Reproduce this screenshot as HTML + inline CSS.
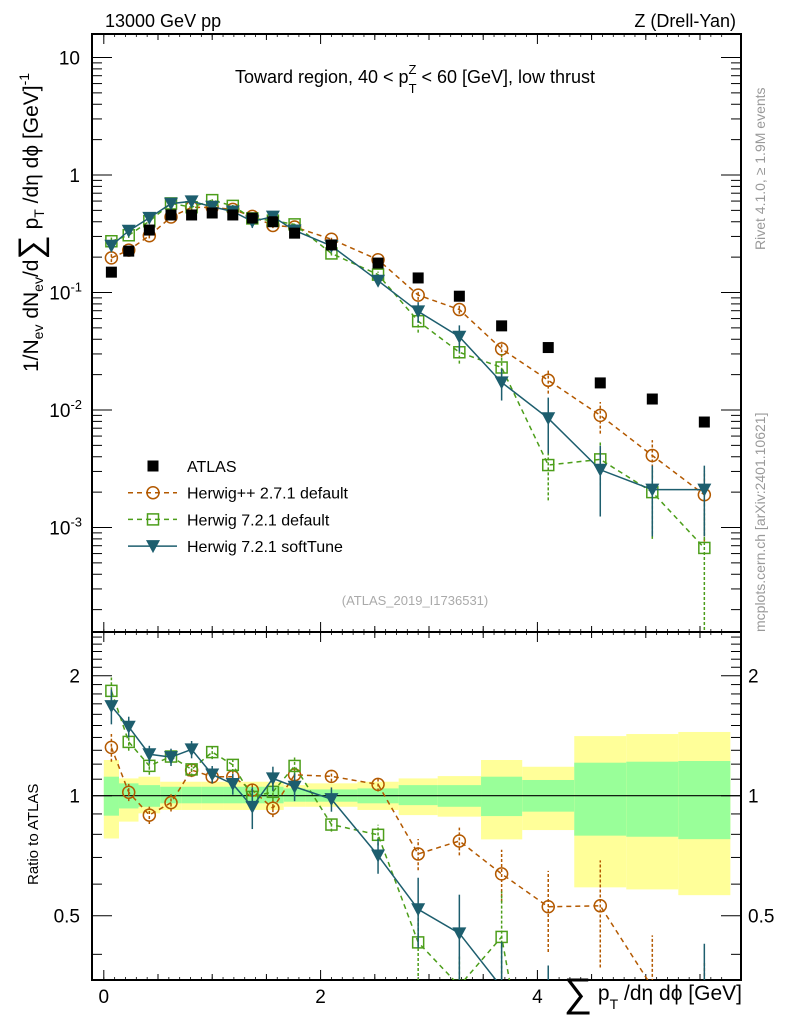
<!DOCTYPE html>
<html><head><meta charset="utf-8"><style>
html,body{margin:0;padding:0;background:#fff;overflow:hidden;}
svg{display:block;font-family:"Liberation Sans",sans-serif;}
</style></head><body>
<svg id="c" width="786" height="1024" viewBox="0 0 786 1024">
<defs>
<clipPath id="cm"><rect x="92" y="34" width="649" height="598"/></clipPath>
<clipPath id="cr"><rect x="92" y="632" width="649" height="348"/></clipPath>
</defs>
<g id="bands" clip-path="url(#cr)"></g>
<g id="grid"></g>
<g id="series"></g>
<text x="105" y="27" font-size="18">13000 GeV pp</text>
<text x="736" y="27" font-size="18" text-anchor="end">Z (Drell-Yan)</text>
<text x="415" y="83" font-size="18" text-anchor="middle">Toward region, 40 &lt; p<tspan font-size="13" dy="10">T</tspan><tspan font-size="13" dx="-8" dy="-19">Z</tspan><tspan dy="9"> &lt; 60 [GeV], low thrust</tspan></text>
<text x="415" y="605" font-size="13" fill="#aaa" text-anchor="middle">(ATLAS_2019_I1736531)</text>
<text transform="translate(765,250) rotate(-90)" font-size="14" fill="#999">Rivet 4.1.0, ≥ 1.9M events</text>
<text transform="translate(765,632) rotate(-90)" font-size="14" fill="#999">mcplots.cern.ch [arXiv:2401.10621]</text>
<text transform="translate(38,372) rotate(-90)" font-size="21">1/N<tspan font-size="14" dy="5">ev</tspan><tspan dy="-5"> dN</tspan><tspan font-size="14" dy="5">ev</tspan><tspan dy="-5">/d</tspan><tspan font-size="34" dy="4">∑</tspan><tspan dy="-4"> p</tspan><tspan font-size="14" dy="6">T</tspan><tspan dy="-6"> /dη dϕ  [GeV]</tspan><tspan font-size="14" dy="-9">-1</tspan></text>
<text transform="translate(38,885) rotate(-90)" font-size="15">Ratio to ATLAS</text>
<text x="742" y="1000" font-size="21" text-anchor="end"><tspan font-size="40" dy="6">∑</tspan><tspan dy="-6"> p</tspan><tspan font-size="14" dy="9">T</tspan><tspan dy="-9"> /dη dϕ [GeV]</tspan></text>
<g id="legend"></g>
</svg>
<script>
const xVals=[0.07,0.23,0.42,0.62,0.81,1.0,1.19,1.37,1.56,1.76,2.1,2.53,2.9,3.28,3.67,4.1,4.58,5.06,5.54];
const binEdges=[0,0.14,0.32,0.52,0.72,0.9,1.1,1.28,1.46,1.66,1.86,2.34,2.72,3.08,3.48,3.86,4.34,4.82,5.3,5.78];
const atlas=[0.149,0.225,0.34,0.457,0.457,0.475,0.457,0.43,0.40,0.32,0.254,0.178,0.133,0.093,0.052,0.034,0.017,0.0124,0.0079];
const herwigpp=[0.197,0.2295,0.304,0.439,0.530,0.530,0.510,0.444,0.372,0.361,0.284,0.190,0.095,0.0716,0.0331,0.0179,0.0090,0.0041,0.0019];
const herwig7=[0.273,0.307,0.404,0.573,0.532,0.611,0.546,0.427,0.409,0.380,0.215,0.142,0.057,0.031,0.023,0.0034,0.0038,0.0020,0.00067];
const softTune=[0.250,0.335,0.432,0.571,0.597,0.537,0.489,0.403,0.442,0.337,0.249,0.126,0.069,0.042,0.0172,0.0085,0.0031,0.0021,0.0021];
const errHpp=[0.08,0.05,0.05,0.05,0.04,0.04,0.04,0.04,0.05,0.04,0.03,0.04,0.09,0.08,0.15,0.23,0.3,0.35,0.6];
const errH7=[0.08,0.05,0.05,0.04,0.04,0.04,0.04,0.05,0.05,0.05,0.04,0.06,0.2,0.2,0.3,0.5,0.4,0.6,1.0];
const errSoft=[0.1,0.06,0.05,0.05,0.05,0.05,0.06,0.12,0.07,0.08,0.07,0.1,0.2,0.25,0.3,0.5,0.6,0.6,0.6];
const totUp=[1.229,1.105,1.116,1.084,1.084,1.084,1.084,1.084,1.084,1.063,1.074,1.084,1.105,1.12,1.229,1.182,1.411,1.428,1.445];
const totDn=[0.781,0.861,0.903,0.921,0.921,0.921,0.921,0.921,0.921,0.938,0.938,0.921,0.894,0.886,0.777,0.82,0.589,0.582,0.563];
const statUp=[1.116,1.074,1.063,1.053,1.053,1.053,1.053,1.053,1.053,1.043,1.037,1.043,1.063,1.063,1.116,1.095,1.21,1.217,1.222];
const statDn=[0.891,0.929,0.938,0.957,0.957,0.957,0.957,0.957,0.957,0.966,0.966,0.957,0.947,0.938,0.889,0.912,0.794,0.789,0.778];
const xTicksMajor=[0,2,4];
const mainTickExp=[1,0,-1,-2,-3];
const ratioTicks=[2,1,0.5];

const NS="http://www.w3.org/2000/svg";
const L=92,R=741,MT=34,MB=632,RB=980;
const X=v=>103.8+108.4*v;
const YM=v=>175-117.5*Math.log10(v);
const YR=r=>795.7-120*Math.log2(r);
function el(t,a,p){const e=document.createElementNS(NS,t);for(const k in a)e.setAttribute(k,a[k]);p.appendChild(e);return e;}
const g=document.getElementById('grid'),bands=document.getElementById('bands'),ser=document.getElementById('series'),leg=document.getElementById('legend');

for(let i=0;i<atlas.length;i++){
  const x0=X(binEdges[i]),x1=X(binEdges[i+1]);
  const y=el('rect',{x:x0,y:YR(totUp[i]),width:x1-x0,height:YR(totDn[i])-YR(totUp[i]),fill:'#ffff99'},bands);
  
  
  const s=el('rect',{x:x0,y:YR(statUp[i]),width:x1-x0,height:YR(statDn[i])-YR(statUp[i]),fill:'#99ff99'},bands);
  
  
}
el('line',{x1:L,x2:R,y1:YR(1),y2:YR(1),stroke:'#000','stroke-width':1.2},g);

el('rect',{x:L,y:MT,width:R-L,height:MB-MT,fill:'none',stroke:'#000','stroke-width':2},g);
el('rect',{x:L,y:MB,width:R-L,height:RB-MB,fill:'none',stroke:'#000','stroke-width':2},g);
for(let v=0;v<=5.75;v+=0.5){
  const x=X(v),big=Math.abs(v-Math.round(v/2)*2)<1e-6?10:6;
  for(const [y,d] of [[MT,1],[MB,-1],[MB,1],[RB,-1]]) el('line',{x1:x,x2:x,y1:y,y2:y+d*big,stroke:'#000','stroke-width':1},g);
}
for(let v=0;v<=5.75;v+=0.1){const x=X(v);for(const [y,d] of [[MT,1],[MB,-1],[MB,1],[RB,-1]]) el('line',{x1:x,x2:x,y1:y,y2:y+d*3,stroke:'#000','stroke-width':0.8},g);}
xTicksMajor.forEach(v=>{const t=el('text',{x:X(v),y:1003,'font-size':19,'text-anchor':'middle'},g);t.textContent=v;

});
for(let e=-4;e<=1;e++){for(let m=1;m<10;m++){const v=m*Math.pow(10,e),y=YM(v);if(y<MT||y>MB)continue;const w=m==1?20:10;
el('line',{x1:L,x2:L+w,y1:y,y2:y,stroke:'#000','stroke-width':1},g);el('line',{x1:R,x2:R-w,y1:y,y2:y,stroke:'#000','stroke-width':1},g);}}
mainTickExp.forEach(e=>{const y=YM(Math.pow(10,e))+7;let t;
 if(e==1){t=el('text',{x:80,y:y,'font-size':19,'text-anchor':'end'},g);t.textContent='10';}
 else if(e==0){t=el('text',{x:80,y:y,'font-size':19,'text-anchor':'end'},g);t.textContent='1';}
 else{t=el('text',{x:82,y:y,'font-size':19,'text-anchor':'end'},g);const a=document.createElementNS(NS,'tspan');a.textContent='10';t.appendChild(a);const b=document.createElementNS(NS,'tspan');b.setAttribute('font-size','13');b.setAttribute('dy','-8');b.textContent=e;t.appendChild(b);}
 
 });
for(let v=0.3;v<=2.6;v+=0.1){const y=YR(v);if(y<MB||y>RB)continue;const major=[0.5,1,2].some(q=>Math.abs(q-v)<1e-6);const w=major?20:10;
el('line',{x1:L,x2:L+w,y1:y,y2:y,stroke:'#000','stroke-width':1},g);el('line',{x1:R,x2:R-w,y1:y,y2:y,stroke:'#000','stroke-width':1},g);}
ratioTicks.forEach(r=>{for(const [x,a] of [[80,'end'],[748,'start']]){const t=el('text',{x:x,y:YR(r)+7,'font-size':19,'text-anchor':a},g);t.textContent=r;

}});

function marker(p,type,x,y,c){
 if(type=='sq') return el('rect',{x:x-5.5,y:y-5.5,width:11,height:11,fill:'#000'},p);
 if(type=='circ') return el('circle',{cx:x,cy:y,r:6,fill:'none',stroke:c,'stroke-width':1.5},p);
 if(type=='osq') return el('rect',{x:x-5.5,y:y-5.5,width:11,height:11,fill:'none',stroke:c,'stroke-width':1.5},p);
 if(type=='tri') return el('path',{d:`M${x-7},${y-6}L${x+7},${y-6}L${x},${y+7}Z`,fill:c},p);
}
const models=[
 {v:herwigpp,e:errHpp,c:'#b35900',m:'circ',dash:'5,4',name:'herwigpp-series'},
 {v:herwig7,e:errH7,c:'#4c9e1a',m:'osq',dash:'5,4',name:'herwig7-default-series'},
 {v:softTune,e:errSoft,c:'#1d5e6e',m:'tri',dash:null,name:'herwig7-softtune-series'}];
models.forEach(md=>{
 for(const panel of ['main','ratio']){
  const grp=el('g',{'clip-path':panel=='main'?'url(#cm)':'url(#cr)'},ser);
  
  
  const Yf=panel=='main'?(i=>YM(md.v[i])):(i=>YR(md.v[i]/atlas[i]));
  const Yv=panel=='main'?(v=>YM(v)):(v=>YR(v));
  const pts=md.v.map((v,i)=>X(xVals[i])+','+Yf(i)).join(' ');
  const pl=el('polyline',{points:pts,fill:'none',stroke:md.c,'stroke-width':1.5},grp);
  if(md.dash)pl.setAttribute('stroke-dasharray',md.dash);
  md.v.forEach((v,i)=>{const base=panel=='main'?v:v/atlas[i];const x=X(xVals[i]);
   const lo=Math.max(base*(1-md.e[i]),1e-6),hi=base*(1+md.e[i]);
   const eb=el('line',{x1:x,x2:x,y1:Yv(lo),y2:Yv(hi),stroke:md.c,'stroke-width':1.5},grp);if(md.dash)eb.setAttribute('stroke-dasharray','3,2');
   const mk=marker(grp,md.m,x,Yf(i),md.c);
   
   });
 }
});
const ag=el('g',{'clip-path':'url(#cm)'},ser);


atlas.forEach((v,i)=>{const m=marker(ag,'sq',X(xVals[i]),YM(v),'#000');
 
 });

const legItems=[['ATLAS','sq','#000',null],['Herwig++ 2.7.1 default','circ','#b35900','5,4'],['Herwig 7.2.1 default','osq','#4c9e1a','5,4'],['Herwig 7.2.1 softTune','tri','#1d5e6e','none']];
legItems.forEach((it,k)=>{const y=466+k*26.7;
 const gg=el('g',{},leg);
 
 
 if(it[3]){const ln=el('line',{x1:128,x2:177,y1:y,y2:y,stroke:it[2],'stroke-width':1.5},gg);if(it[3]!='none')ln.setAttribute('stroke-dasharray',it[3]);}
 marker(gg,it[1],153,y,it[2]);
 const t=el('text',{x:187,y:y+6,'font-size':16},gg);t.textContent=it[0];});
</script>
</body></html>
